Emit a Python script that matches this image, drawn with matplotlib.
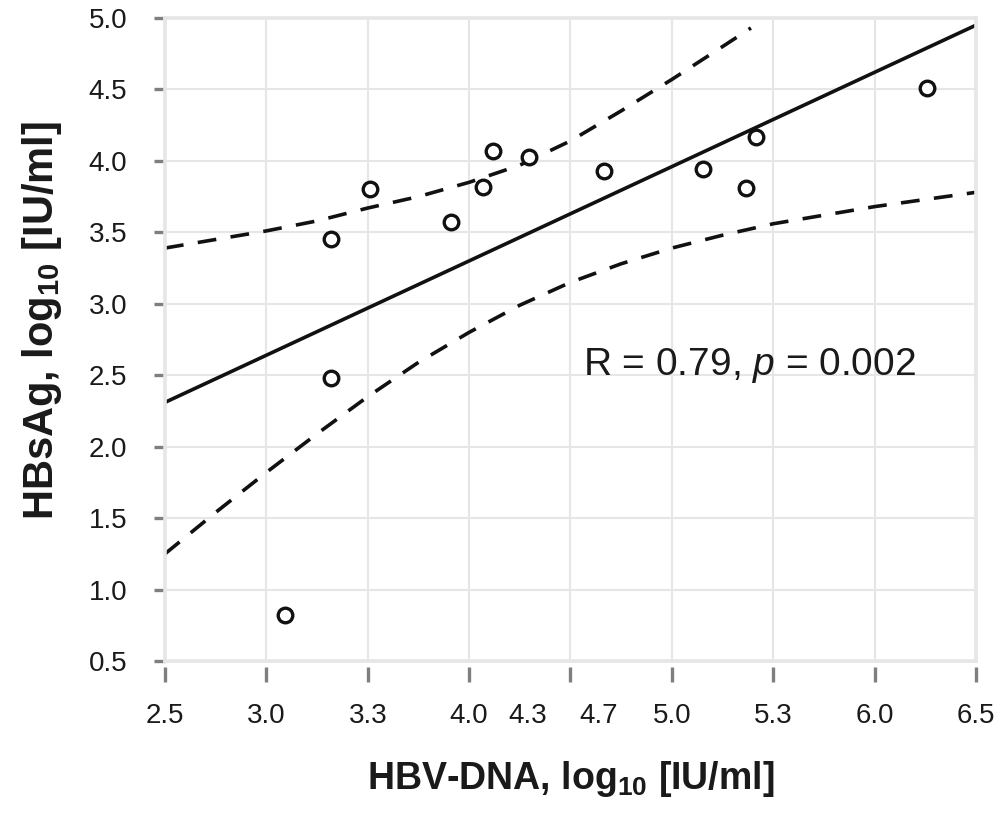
import numpy as np
import matplotlib.pyplot as plt

plt.rcParams['font.family'] = ['Liberation Sans', 'DejaVu Sans']
plt.rcParams['mathtext.fontset'] = 'custom'
plt.rcParams['mathtext.rm'] = 'Liberation Sans'
plt.rcParams['mathtext.it'] = 'Liberation Sans:italic'
plt.rcParams['mathtext.bf'] = 'Liberation Sans:bold'

# patient values (log10 IU/ml)
hbv_dna = [3.32, 3.51, 3.91, 4.07, 4.12, 4.295, 4.665, 5.155, 5.365, 5.415, 6.26, 3.32, 3.09]
hbsag = [3.45, 3.80, 3.57, 3.82, 4.07, 4.03, 3.93, 3.94, 3.81, 4.17, 4.51, 2.48, 0.82]

# regression line and 95% band
fit_x = [2.5, 6.5]
fit_y = [2.31, 4.95]
upper_x = [2.5, 2.75, 3.0, 3.25, 3.5, 3.75, 4.0, 4.25, 4.5, 4.75, 5.0, 5.25, 5.39]
upper_y = [3.39, 3.45, 3.51, 3.58, 3.67, 3.75, 3.85, 3.97, 4.14, 4.35, 4.57, 4.80, 4.93]
lower_x = [2.5, 2.75, 3.0, 3.25, 3.5, 3.75, 4.0, 4.25, 4.5, 4.75, 5.0, 5.25, 5.5, 5.75, 6.0, 6.25, 6.5]
lower_y = [1.25, 1.54, 1.82, 2.09, 2.35, 2.59, 2.80, 2.99, 3.15, 3.28, 3.39, 3.48, 3.56, 3.62, 3.68, 3.73, 3.78]

x_ticks = [2.5, 3.0, 3.5, 4.0, 4.5, 5.0, 5.5, 6.0, 6.5]
x_labels = ['2.5', '3.0', '3.3', '4.0', '', '5.0', '5.3', '6.0', '6.5']
x_extra_ticks = [4.29, 4.64]
x_extra_labels = ['4.3', '4.7']
y_ticks = [0.5, 1.0, 1.5, 2.0, 2.5, 3.0, 3.5, 4.0, 4.5, 5.0]

grid_col = '#e6e6e6'
tick_col = '#7f7f7f'
txt_col = '#1a1a1a'

fig = plt.figure(figsize=(9.95, 8.22), dpi=100)
ax = fig.add_axes([165 / 995, 1 - 661 / 822, 811 / 995, 643 / 822])

ax.plot(fit_x, fit_y, color='#111111', lw=2.6, solid_capstyle='butt')
ax.plot(upper_x, upper_y, color='#111111', lw=2.6, dashes=[5.2, 4.0])
ax.plot(lower_x, lower_y, color='#111111', lw=2.6, dashes=[5.2, 4.0])
ax.plot(hbv_dna, hbsag, 'o', ms=10.5, mfc='white', mec='#111111', mew=2.4, zorder=3)

ax.text(4.56, 2.5, r'R = 0.79, $\it{p}$ = 0.002', fontsize=28, color=txt_col,
        ha='left', va='baseline')

ax.set_xlim(2.5, 6.5)
ax.set_ylim(0.5, 5.0)
ax.set_xticks(x_ticks)
ax.set_xticklabels(x_labels)
ax.set_xticks(x_extra_ticks, minor=True)
ax.set_xticklabels(x_extra_labels, minor=True)
ax.set_yticks(y_ticks)
ax.set_yticklabels(['%.1f' % v for v in y_ticks])

ax.grid(True, which='major', color=grid_col, lw=1.5)
ax.set_axisbelow(True)
for s in ax.spines.values():
    s.set_color(grid_col)
    s.set_linewidth(2.6)
ax.spines['bottom'].set_position(('outward', 4))
ax.spines['bottom'].set_color('none')
ax.axhline(0.5, color=grid_col, lw=2.6, clip_on=False, zorder=0.6)

ax.tick_params(axis='y', direction='out', length=8, width=2.4, color=tick_col,
               pad=19, labelsize=20, labelcolor=txt_col)
ax.tick_params(axis='x', which='major', direction='out', length=11, width=2.4,
               color=tick_col, pad=15, labelsize=20, labelcolor=txt_col)
ax.tick_params(axis='x', which='minor', length=0, pad=26, labelsize=20,
               labelcolor=txt_col)

ax.set_xlabel(r'HBV-DNA, log$_{\mathbf{10}}$ [IU/ml]', fontsize=27,
              fontweight='bold', color=txt_col, labelpad=22)
ax.set_ylabel(r'HBsAg, log$_{\mathbf{10}}$ [IU/ml]', fontsize=30,
              fontweight='bold', color=txt_col, labelpad=18)
ax.yaxis.label.set_y(0.53)

fig.savefig('out.png', dpi=100)
